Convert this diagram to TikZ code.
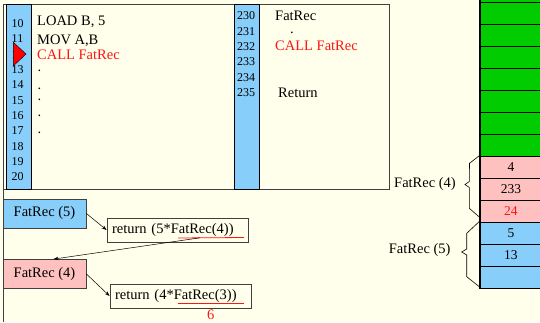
\documentclass[tikz,border=0pt]{standalone}
\usepackage{fontspec}
\setmainfont{Liberation Serif}
\usetikzlibrary{positioning,arrows.meta}
\definecolor{paper}{RGB}{255,255,235}
\definecolor{regblue}{RGB}{135,206,250}
\definecolor{frpink}{RGB}{255,192,192}
\definecolor{freegreen}{RGB}{0,204,0}
\definecolor{callred}{RGB}{255,20,20}
\tikzset{
  >={Stealth[length=5pt,width=3.5pt]},
  txt/.style={font=\fontsize{14.5}{17}\selectfont,inner sep=0pt},
  lnum/.style={font=\fontsize{12}{14}\selectfont,inner sep=0pt,anchor=base},
  codeln/.style={txt,anchor=base west},
  callln/.style={codeln,text=callred},
  numcol/.style={draw=black,fill=regblue,line width=0.8pt},
  cell/.style={draw=black,line width=1.3pt,minimum width=62pt,minimum height=22pt,
    inner sep=0pt,anchor=north west,font=\fontsize{13.5}{16}\selectfont},
  frbox/.style={txt,draw=black!75,line width=0.8pt,minimum width=83pt,minimum height=29pt},
  retbox/.style={txt,draw=black!75,line width=0.8pt,fill=paper,text width=131pt,
    align=left,inner xsep=5pt,minimum height=24pt},
  link/.style={->,line width=0.5pt},
  brc/.style={line width=0.6pt},
  uline/.style={callred,line width=0.8pt},
}
\begin{document}
\begin{tikzpicture}[x=1pt,y=-1pt]
  \fill[paper] (0,0) rectangle (540,322);
  \useasboundingbox (0,0) rectangle (540,322);

  % program memory
  \draw[black!75,line width=0.8pt] (3,322) -- (3,4.5) -- (389,4.5) -- (389,189) -- (3,189);
  \draw[numcol] (6,4.5) rectangle (31,189);
  \draw[numcol] (234,4.5) rectangle (259,189);
  \foreach \n [count=\k from 0] in {10,...,20}
    \node[lnum] (ln\n) at (17.5,{27.4+15.35*\k}) {\n};
  \foreach \n [count=\k from 0] in {230,...,235}
    \node[lnum] (ln\n) at (246,{19.7+15.4*\k}) {\n};

  % main program
  \node[codeln] (load) at (37,25.5) {LOAD B, 5};
  \node[codeln] (mov) at (37,44) {MOV A,B};
  \node[callln] (call) at (37,59) {CALL FatRec};
  \foreach \yy [count=\k] in {71.7,89,100.7,116.7,133}
    \node[codeln] (dot\k) at (37.5,\yy) {.};
  \filldraw[fill=red,draw=black,line width=0.4pt] (13.3,42.3) -- (26,54) -- (13.3,66) -- cycle;

  % subroutine
  \node[codeln] (fat) at (275,20.5) {FatRec};
  \node[codeln] (rdot) at (290,33) {.};
  \node[callln] (rcall) at (275,50.8) {CALL FatRec};
  \node[codeln] (ret) at (278,97.5) {Return};

  % stack
  \foreach \k in {0,...,7}
    \node[cell,fill=freegreen] (free\k) at (479.3,{155.7-22*(8-\k)}) {};
  \node[cell,fill=frpink] (c4) at (479.3,155.7) {4};
  \node[cell,fill=frpink] (c233) at (479.3,177.7) {233};
  \node[cell,fill=frpink,text=callred] (c24) at (479.3,199.7) {24};
  \node[cell,fill=regblue] (c5) at (479.3,221.7) {5};
  \node[cell,fill=regblue] (c13) at (479.3,243.7) {13};
  \node[cell,fill=regblue] (cfree) at (479.3,265.7) {};

  % frames
  \coordinate (tip4) at (465,184.5);
  \coordinate (tip5) at (461.7,252);
  \draw[brc] (479.3,155.7) -- (469.5,163.3) -- (469.3,181.5) -- (tip4) -- (469.3,187.5)
    -- (469.3,208.3) -- (479.3,217);
  \draw[brc] (479.3,221.5) -- (466.7,233.3) -- (466.7,249) -- (tip5) -- (466.7,255)
    -- (466.7,276.7) -- (479.3,286.7);
  \node[txt,left=9pt of tip4] (lbl4) {FatRec (4)};
  \node[txt,left=11pt of tip5,yshift=1.5pt] (lbl5) {FatRec (5)};

  % recursive calls
  \node[frbox,fill=regblue] (fr5) at (44.5,213.5) {FatRec (5)};
  \node[retbox] (ret5) at (177.5,230) {return (5*FatRec(4))};
  \node[frbox,fill=frpink] (fr4) at (44.5,274) {FatRec (4)};
  \node[retbox] (ret3) at (180.5,296) {return (4*FatRec(3))};
  \coordinate (u5a) at (178,238);
  \coordinate (u5b) at (244,237.5);
  \coordinate (u5m) at (200,237.8);
  \coordinate (u3a) at (178,303.3);
  \coordinate (u3b) at (243.5,303.3);
  \draw[uline] (u5a) -- (u5b);
  \draw[uline] (u3a) -- (u3b);
  \node[txt,text=callred] (six) at (210.7,314.5) {6};
  \draw[link] (fr5.east) -- (ret5.west);
  \draw[link] (u5m) -- ([xshift=9pt]fr4.north);
  \draw[link] (fr4.east) -- (ret3.west);
\end{tikzpicture}
\end{document}
